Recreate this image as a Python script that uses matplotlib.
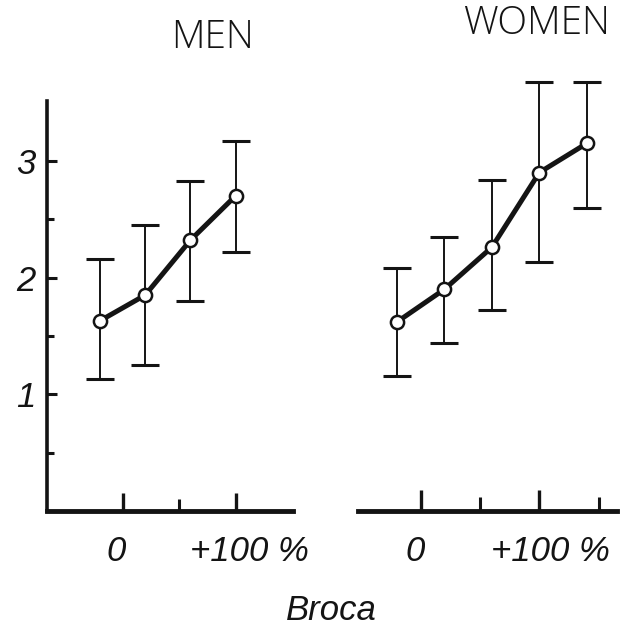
import matplotlib
matplotlib.use("Agg")
import matplotlib.pyplot as plt

# mean value with range, by Broca index (% over normal weight)
men_x = [-20, 20, 60, 100]
men_y = [1.63, 1.85, 2.32, 2.70]
men_lo = [1.13, 1.25, 1.80, 2.22]
men_hi = [2.16, 2.45, 2.83, 3.17]

women_x = [-20, 20, 60, 100, 140]
women_y = [1.62, 1.90, 2.26, 2.90, 3.15]
women_lo = [1.16, 1.44, 1.72, 2.13, 2.60]
women_hi = [2.08, 2.35, 2.84, 3.68, 3.68]

y_major = [1, 2, 3]
y_minor = [0.5, 1.5, 2.5]

hand = dict(family=["Liberation Sans", "DejaVu Sans"], style="italic", size=25)
title_font = dict(family=["Open Sans", "DejaVu Sans"], weight="light", size=28)

ink = "#141414"

fig = plt.figure(figsize=(6.3, 6.29), dpi=100)
H = 629.0
ax1 = fig.add_axes([47 / 630, (H - 511) / H, (293 - 47) / 630, 410 / H])
ax2 = fig.add_axes([358 / 630, (H - 511) / H, (617 - 358) / 630, 410 / H])


def draw(ax, x, y, lo, hi):
    err = [[m - l for m, l in zip(y, lo)], [h - m for m, h in zip(y, hi)]]
    eb = ax.errorbar(x, y, yerr=err, fmt="none", ecolor=ink, elinewidth=1.4,
                     capsize=10, capthick=2.2, zorder=1)
    for art in list(eb.lines[1]) + list(eb.lines[2]):
        art.set_clip_on(False)
    ax.plot(x, y, color=ink, lw=3.6, zorder=2, solid_capstyle="round")
    ax.plot(x, y, "o", mfc="white", mec=ink, ms=9.5, mew=1.8, zorder=3, clip_on=False)
    ax.set_ylim(0, 3.513)
    ax.patch.set_alpha(0)
    for s in ["top", "right"]:
        ax.spines[s].set_visible(False)
    ax.spines["bottom"].set_linewidth(3.5)
    ax.spines["bottom"].set_color(ink)


draw(ax1, men_x, men_y, men_lo, men_hi)
draw(ax2, women_x, women_y, women_lo, women_hi)

ax1.set_xlim(-67, 150.9)
ax2.set_xlim(-52.9, 165.5)

# men axis
ax1.spines["left"].set_linewidth(2.6)
ax1.spines["left"].set_color(ink)
ax1.set_yticks(y_major)
ax1.set_yticks(y_minor, minor=True)
ax1.set_yticklabels([str(v) for v in y_major], **hand)
ax1.tick_params(axis="y", which="major", direction="in", length=7.5, width=2.2,
                color=ink, pad=8, labelcolor=ink)
ax1.tick_params(axis="y", which="minor", direction="in", length=5, width=2.2, color=ink)
ax1.set_xticks([0, 100])
ax1.set_xticks([50], minor=True)
ax1.set_xticklabels([])
ax1.tick_params(axis="x", which="major", direction="in", length=13, width=2.4, color=ink)
ax1.tick_params(axis="x", which="minor", direction="in", length=8.5, width=2.2, color=ink)

# women axis
ax2.spines["left"].set_visible(False)
ax2.set_yticks([])
ax2.set_xticks([0, 100])
ax2.set_xticks([50, 150], minor=True)
ax2.set_xticklabels([])
ax2.tick_params(axis="x", which="major", direction="in", length=15, width=2.4, color=ink)
ax2.tick_params(axis="x", which="minor", direction="in", length=10, width=2.2, color=ink)

# x tick labels, hand lettered: "+100" sits on the tick, "%" hangs off
for ax, d0, d100 in [(ax1, -5, 10), (ax2, -4, 8)]:
    ax.annotate("0", xy=(0, 0), xytext=(d0, -17), textcoords="offset points",
                ha="center", va="top", color=ink, **hand)
    ax.annotate("+100 %", xy=(100, 0), xytext=(d100, -17), textcoords="offset points",
                ha="center", va="top", color=ink, **hand)

fig.text(331 / 630, 9 / H, "Broca", ha="center", va="baseline", color=ink, **hand)
fig.text(212 / 630, 1 - 38 / H, "MEN", ha="center", va="center", color=ink, **title_font)
fig.text(536 / 630, 1 - 24 / H, "WOMEN", ha="center", va="center", color=ink, **title_font)

fig.savefig("out.png", dpi=100, facecolor="white")
